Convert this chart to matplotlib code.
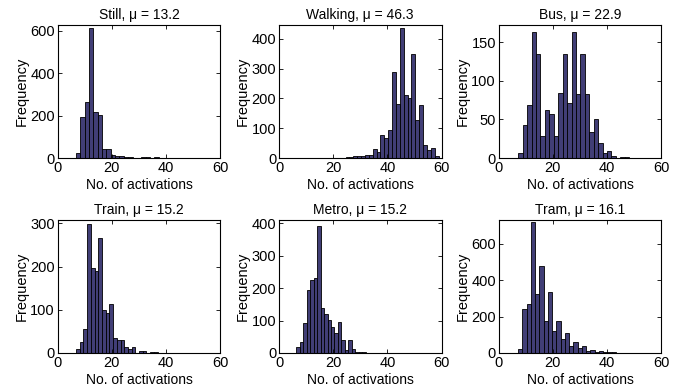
import numpy as np
import matplotlib
matplotlib.use("Agg")
from matplotlib import pyplot as plt

plt.rcParams["font.family"] = ["Liberation Sans", "DejaVu Sans"]

# ---- data ----
titles = ["Still", "Walking", "Bus", "Train", "Metro", "Tram"]
means = [13.2, 46.3, 22.9, 15.2, 15.2, 16.1]

still_counts = [22, 194, 265, 612, 215, 204, 44, 41, 13, 8, 8, 3, 3, 1, 0, 3, 3, 0, 4, 2, 2, 1, 2, 1]
walking_counts = [2, 3, 8, 6, 8, 9, 11, 31, 19, 78, 67, 95, 288, 180, 437, 211, 202, 351,
                  128, 177, 44, 28, 34, 6]
bus_counts = [7, 43, 69, 163, 135, 29, 62, 57, 28, 84, 134, 71, 163, 83, 134, 83, 33, 51,
              20, 6, 9, 2, 0, 1, 1]
train_counts = [10, 26, 55, 298, 197, 189, 266, 99, 93, 114, 34, 30, 29, 14, 9, 13, 1, 5, 4,
                0, 2, 3, 0, 1, 1]
metro_counts = [20, 34, 91, 193, 224, 231, 393, 138, 120, 102, 79, 61, 97, 39, 10, 40, 11, 4,
                2, 2, 1, 1, 1]
tram_counts = [22, 243, 271, 720, 325, 479, 177, 333, 122, 175, 75, 108, 38, 60, 29, 38, 13,
               16, 7, 9, 5, 5, 3, 2]

all_counts = [still_counts, walking_counts, bus_counts, train_counts, metro_counts, tram_counts]
bin_start = [6.7, 24.6, 7.2, 6.75, 6.3, 7.2]
bin_width = [1.61, 1.43, 1.64, 1.37, 1.29, 1.57]
y_top = [628, 447, 172, 308, 410, 730]
y_ticks = [[0, 200, 400, 600], [0, 100, 200, 300, 400], [0, 50, 100, 150],
           [0, 100, 200, 300], [0, 100, 200, 300, 400], [0, 200, 400, 600]]
x_ticks = [0, 20, 40, 60]

BAR_COLOR = "#413e76"

fig = plt.figure(figsize=(6.87, 3.92), dpi=100)

lefts = [57.7, 279, 498.7]
tops = [25, 220]
W, H = 162.5, 133

for i, counts in enumerate(all_counts):
    r, c = divmod(i, 3)
    x0 = lefts[c] / 687
    y0 = 1 - (tops[r] + H) / 392
    ax = fig.add_axes([x0, y0, W / 687, H / 392])

    edges = bin_start[i] + bin_width[i] * np.arange(len(counts))
    ax.bar(edges, counts, width=bin_width[i], align="edge",
           color=BAR_COLOR, edgecolor="black", linewidth=0.6)

    ax.set_xlim(0, 60)
    ax.set_ylim(0, y_top[i])
    ax.set_xticks(x_ticks)
    ax.set_yticks(y_ticks[i])
    ax.tick_params(direction="in", top=True, right=True, length=3, width=0.6,
                   labelsize=10.5, pad=2)
    for s in ax.spines.values():
        s.set_linewidth(0.8)
    ax.set_title(f"{titles[i]}, \u03bc = {means[i]}", fontsize=10, pad=4)
    ax.set_xlabel("No. of activations", fontsize=10, labelpad=2)
    ax.set_ylabel("Frequency", fontsize=10.5, labelpad=1)

fig.savefig("out.png", dpi=100)
